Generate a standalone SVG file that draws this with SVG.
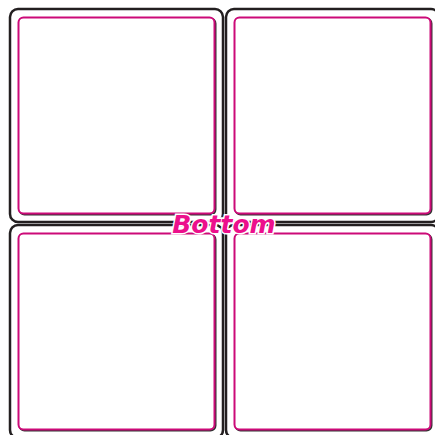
<svg xmlns="http://www.w3.org/2000/svg" width="435" height="435" viewBox="0 0 435 435">
<style>
.outer{fill:#fff;stroke:#231f20;stroke-width:2.5}
.shadow{fill:none;stroke:#333;stroke-width:2}
.inner{fill:#fff;stroke:#cc0a78;stroke-width:2}
.lbl{font-family:"DejaVu Sans",sans-serif;font-weight:bold;font-style:italic;font-size:25px;fill:#ec108c;stroke:#fff;stroke-width:3;paint-order:stroke;text-anchor:middle}
</style>
<defs>
<g id="cell">
<rect class="outer" x="10" y="9" width="213" height="213" rx="8"/>
<rect class="shadow" x="19.5" y="18.5" width="196" height="196" rx="5"/>
<rect class="inner" x="18.5" y="17.5" width="196" height="196" rx="5"/>
</g>
</defs>
<g id="cell-tl"><use href="#cell"/></g>
<g id="cell-tr"><use href="#cell" x="216"/></g>
<g id="cell-bl"><use href="#cell" y="216"/></g>
<g id="cell-br"><use href="#cell" x="216" y="216"/></g>
<g id="connectors"/>
<g id="label"><text class="lbl" x="224" y="233">Bottom</text></g>
</svg>
